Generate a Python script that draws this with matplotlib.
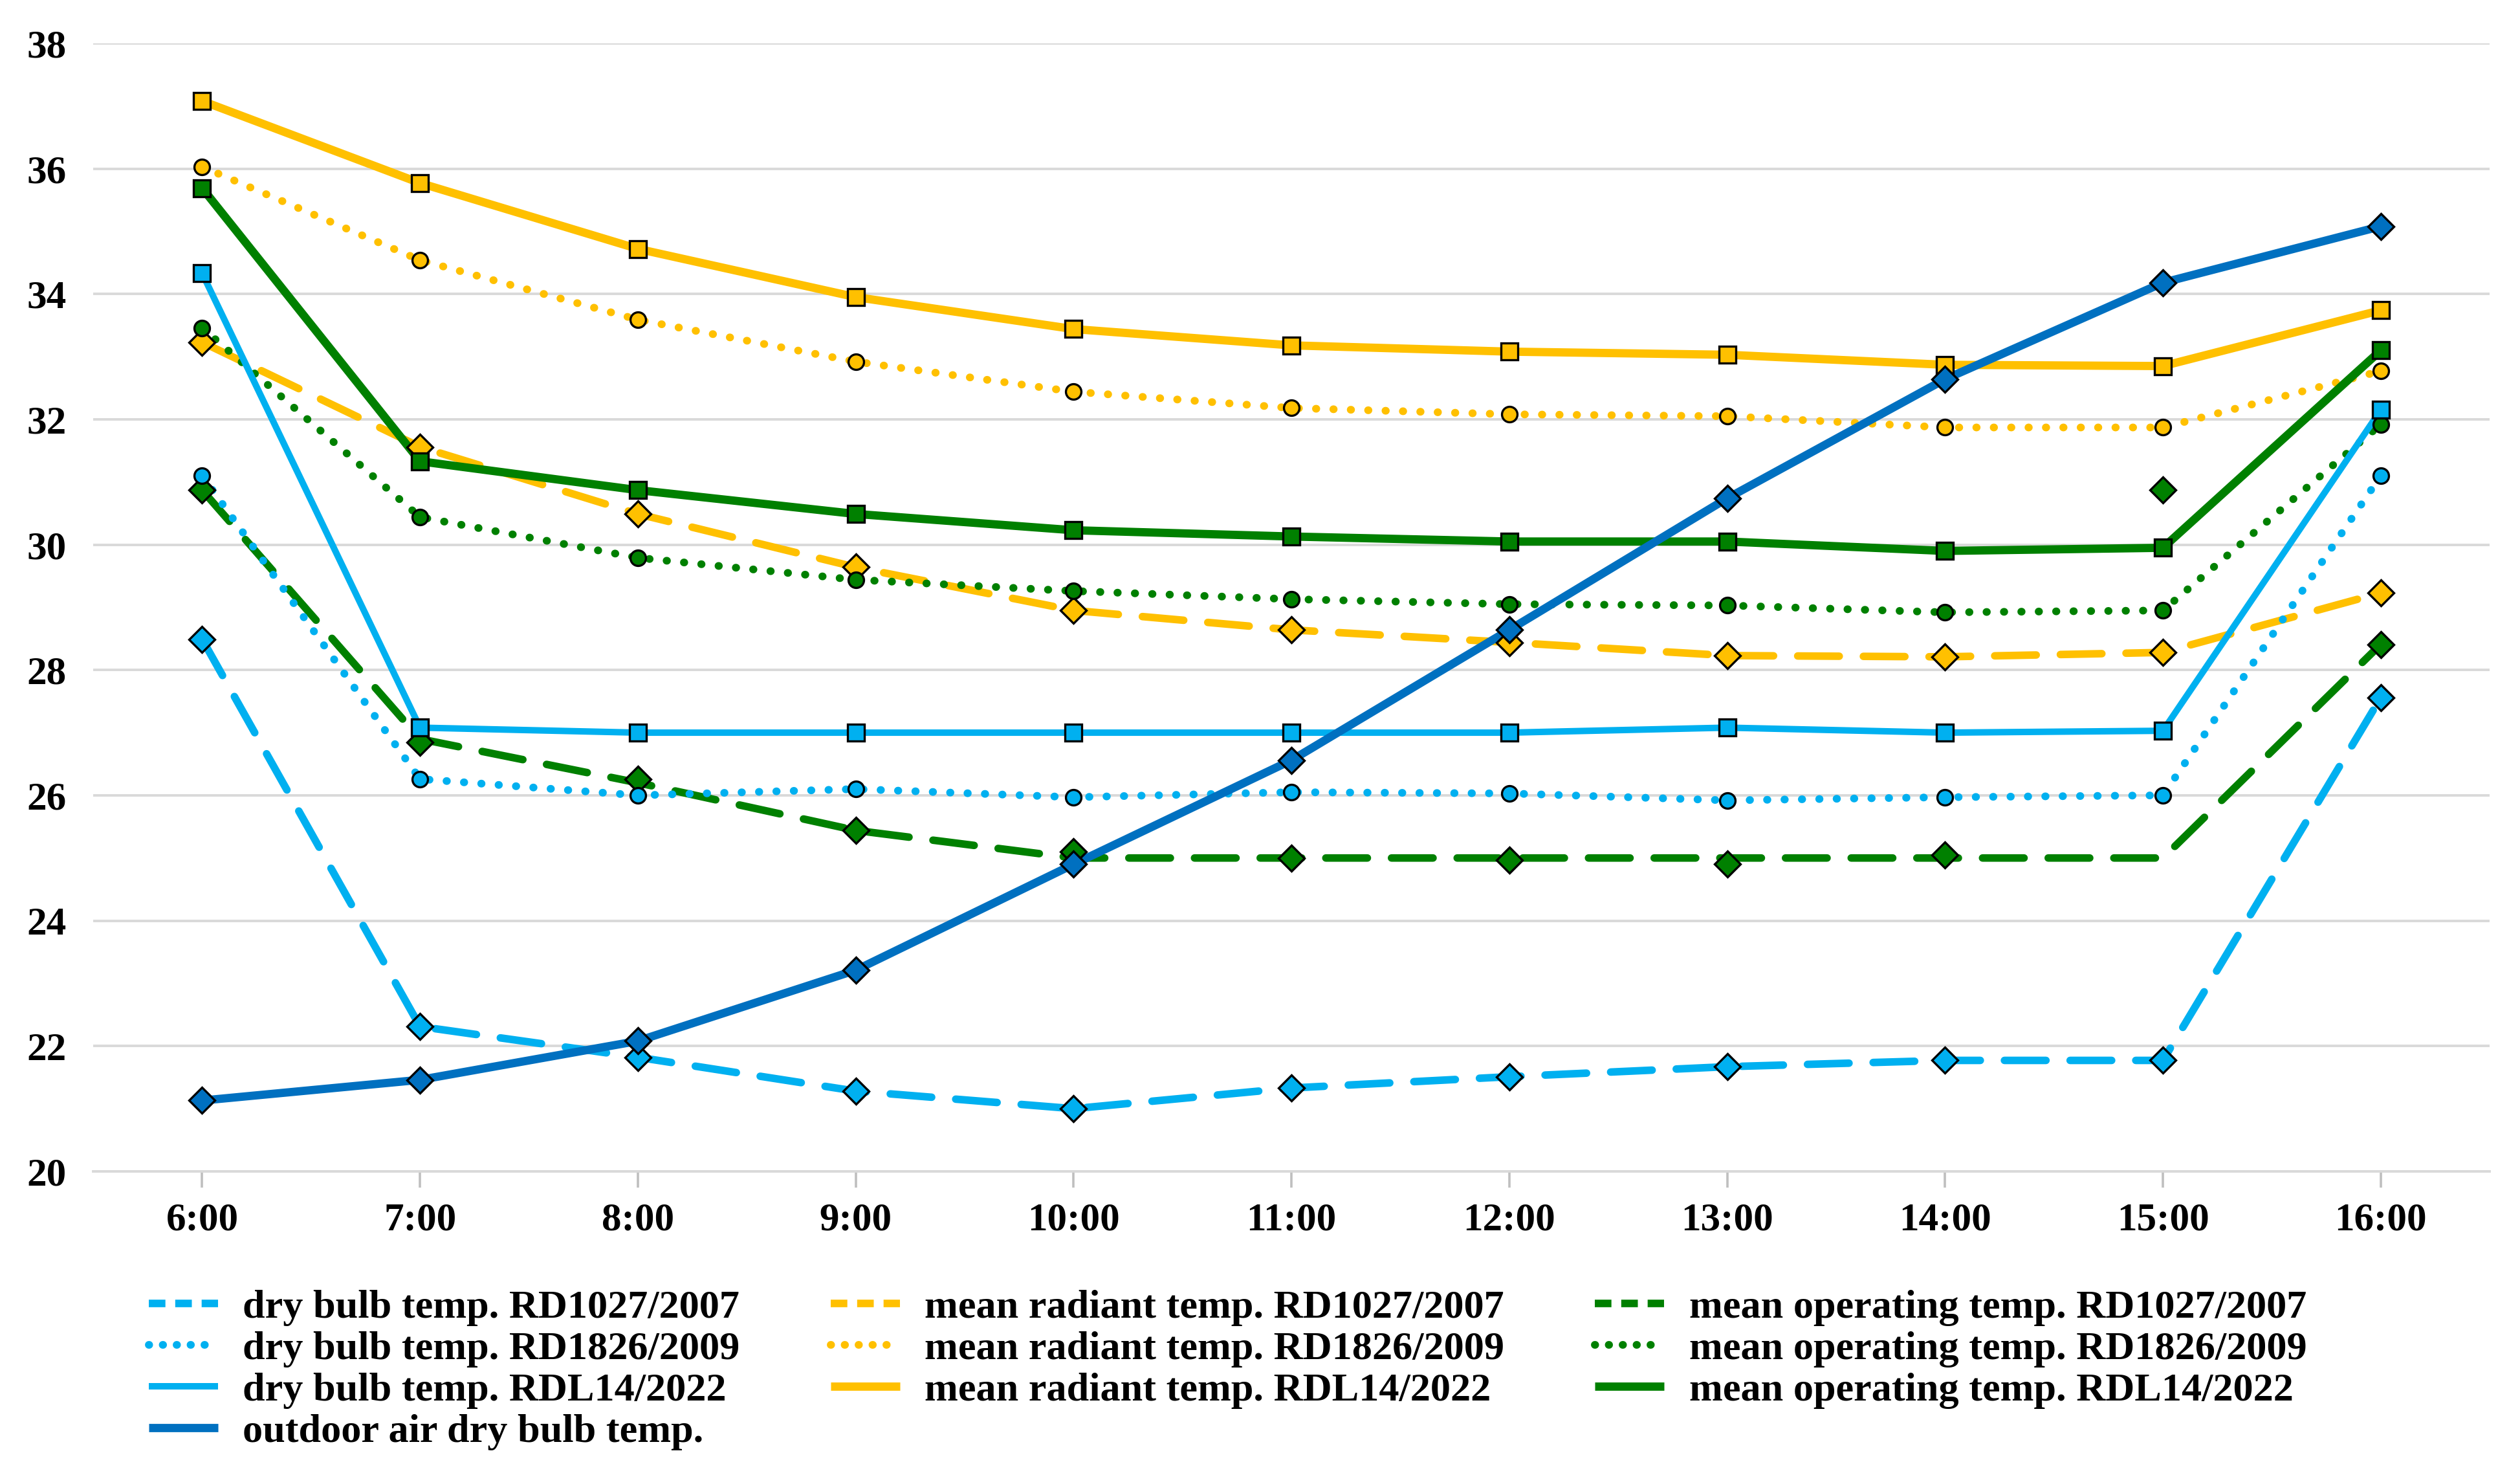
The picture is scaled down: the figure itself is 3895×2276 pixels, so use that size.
import matplotlib
matplotlib.use('Agg')
import matplotlib.pyplot as plt
from matplotlib.lines import Line2D

# hours on the x axis
hours = ['6:00', '7:00', '8:00', '9:00', '10:00', '11:00', '12:00',
         '13:00', '14:00', '15:00', '16:00']

# dry bulb temperatures
dry_1027 = [28.49, 22.31, 21.82, 21.28, 21.00, 21.33, 21.51, 21.67, 21.77, 21.77, 27.56]
dry_1826 = [31.10, 26.26, 26.00, 26.10, 25.97, 26.05, 26.03, 25.92, 25.97, 26.00, 31.10]
dry_rdl14 = [34.33, 27.08, 27.00, 27.00, 27.00, 27.00, 27.00, 27.08, 27.00, 27.03, 32.15]
outdoor = [21.13, 21.46, 22.08, 23.21, 24.90, 26.56, 28.64, 30.74, 32.64, 34.18, 35.08]

# mean radiant temperatures
rad_1027 = [33.23, 31.56, 30.49, 29.64, 28.95, 28.64, 28.44, 28.23, 28.21, 28.28, 29.23]
rad_1826 = [36.03, 34.54, 33.59, 32.92, 32.44, 32.18, 32.08, 32.05, 31.87, 31.87, 32.77]
rad_rdl14 = [37.08, 35.77, 34.72, 33.95, 33.44, 33.18, 33.08, 33.03, 32.87, 32.85, 33.74]

# mean operating temperatures (RD1027 markers do not sit on its line)
op_1027 = [30.87, 26.85, 26.26, 25.44, 25.10, 25.00, 24.97, 24.90, 25.05, 30.87, 28.41]
op_1027_line = [30.87, 26.90, 26.20, 25.44, 25.00, 25.00, 25.00, 25.00, 25.00, 25.00, 28.41]
op_1826 = [33.46, 30.44, 29.79, 29.44, 29.26, 29.13, 29.05, 29.03, 28.92, 28.95, 31.92]
op_rdl14 = [35.69, 31.33, 30.87, 30.49, 30.23, 30.13, 30.05, 30.05, 29.90, 29.95, 33.10]

LBLUE = '#00B0F0'
DBLUE = '#0070C0'
YELLOW = '#FFC000'
GREEN = '#008000'

DASH = (5.5, 3.2)
DOT = (0.05, 2.2)
LEG_DASH = (2.2, 1.3)
LEG_DOT = (0.05, 1.75)

plt.rcParams['font.family'] = ['Liberation Serif', 'DejaVu Serif']
plt.rcParams['font.weight'] = 'bold'

fig = plt.figure(figsize=(19.475, 11.38), dpi=200)
ax = fig.add_axes([0.037, 0.2048, 0.951, 0.7658])

x = list(range(len(hours)))

# label, line values, marker values, colour, dash pattern, marker, line width
series = [
    ('dry bulb temp. RD1027/2007', dry_1027, dry_1027, LBLUE, DASH, 'D', 4.2),
    ('mean radiant temp. RD1027/2007', rad_1027, rad_1027, YELLOW, DASH, 'D', 4.2),
    ('mean operating temp. RD1027/2007', op_1027_line, op_1027, GREEN, DASH, 'D', 4.2),
    ('dry bulb temp. RD1826/2009', dry_1826, dry_1826, LBLUE, DOT, 'o', 4.3),
    ('mean radiant temp. RD1826/2009', rad_1826, rad_1826, YELLOW, DOT, 'o', 4.3),
    ('mean operating temp. RD1826/2009', op_1826, op_1826, GREEN, DOT, 'o', 4.3),
    ('dry bulb temp. RDL14/2022', dry_rdl14, dry_rdl14, LBLUE, None, 's', 3.6),
    ('mean radiant temp. RDL14/2022', rad_rdl14, rad_rdl14, YELLOW, None, 's', 4.6),
    ('mean operating temp. RDL14/2022', op_rdl14, op_rdl14, GREEN, None, 's', 4.6),
    ('outdoor air dry bulb temp.', outdoor, outdoor, DBLUE, None, 'D', 4.6),
]

msize = {'D': 10.0, 'o': 8.6, 's': 9.6}
handles = {}
for i, (label, line_vals, pts, col, dash, mk, lw) in enumerate(series):
    ln, = ax.plot(x, line_vals, color=col, lw=lw, zorder=2 + i * 0.01,
                  solid_capstyle='round', solid_joinstyle='round')
    if dash is not None:
        ln.set_dashes(dash)
        ln.set_dash_capstyle('round')
    ax.plot(x, pts, ls='none', marker=mk, ms=msize[mk], mfc=col, mec='black',
            mew=1.2, zorder=3 + i * 0.01)
    # legend sample: shorter dashes like the original
    h = Line2D([], [], color=col, lw=lw, solid_capstyle='butt')
    if dash is DASH:
        h.set_dashes(LEG_DASH)
    elif dash is DOT:
        h.set_dashes(LEG_DOT)
        h.set_dash_capstyle('round')
    handles[label] = h

ax.set_xlim(-0.5, len(hours) - 0.5)
ax.set_ylim(20, 38)
ax.set_yticks(range(20, 39, 2))
ax.set_xticks(x)
ax.set_xticklabels(hours)

ax.grid(axis='y', color='#D9D9D9', lw=1.4)
ax.set_axisbelow(True)
for s in ['top', 'right', 'left']:
    ax.spines[s].set_visible(False)
ax.spines['bottom'].set_color('#D9D9D9')
ax.spines['bottom'].set_linewidth(1.4)

ax.tick_params(axis='y', length=0, pad=15, labelsize=22)
ax.tick_params(axis='x', length=9, width=1.3, color='#BFBFBF', pad=8, labelsize=22)
for t in ax.get_xticklabels() + ax.get_yticklabels():
    t.set_fontweight('bold')

# legend: three columns, first column gets the outdoor entry
order = [
    'dry bulb temp. RD1027/2007', 'dry bulb temp. RD1826/2009',
    'dry bulb temp. RDL14/2022', 'outdoor air dry bulb temp.',
    'mean radiant temp. RD1027/2007', 'mean radiant temp. RD1826/2009',
    'mean radiant temp. RDL14/2022',
    'mean operating temp. RD1027/2007', 'mean operating temp. RD1826/2009',
    'mean operating temp. RDL14/2022',
]
fig.legend([handles[k] for k in order], order, ncol=3, loc='upper left',
           bbox_to_anchor=(0.059, 0.1245), frameon=False, borderpad=0,
           borderaxespad=0, handlelength=1.72, handletextpad=0.62,
           columnspacing=2.25, labelspacing=0.12,
           prop={'family': 'Liberation Serif', 'weight': 'bold', 'size': 22.4})

fig.savefig('out.png', dpi=200)
